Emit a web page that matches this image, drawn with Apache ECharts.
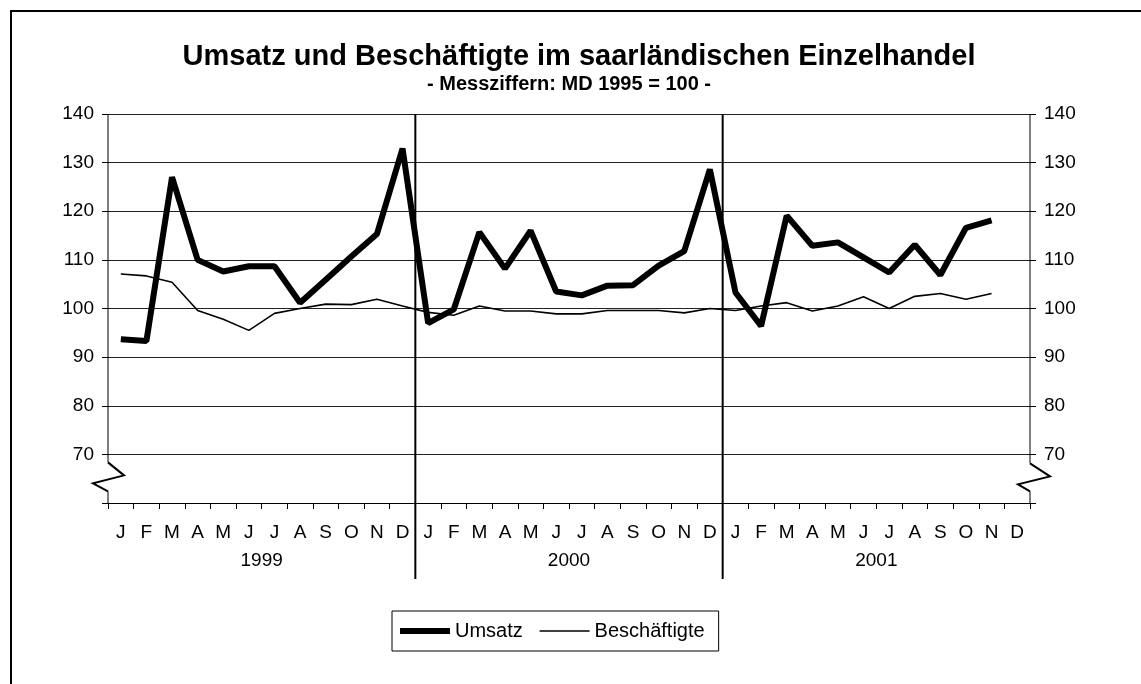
<!DOCTYPE html>
<html>
<head>
<meta charset="utf-8">
<script src="https://cdn.jsdelivr.net/npm/echarts@6/dist/echarts.min.js"></script>
<style>
  html, body { margin: 0; padding: 0; background: #fff; }
  #main { width: 1141px; height: 684px; }
</style>
</head>
<body>
<div id="main"></div>
<script>
// Monate Jan 1999 - Dez 2001
const months = ['J','F','M','A','M','J','J','A','S','O','N','D',
                'J','F','M','A','M','J','J','A','S','O','N','D',
                'J','F','M','A','M','J','J','A','S','O','N','D']
const years = ['1999', '2000', '2001']

// Messziffern MD 1995 = 100
const umsatz = [93.7, 93.3, 127.0, 110.0, 107.6, 108.7, 108.7, 101.2, 105.9, 110.7, 115.3, 132.9,
                97.0, 99.8, 115.7, 108.2, 116.0, 103.5, 102.7, 104.7, 104.8, 108.8, 111.8, 128.6,
                103.3, 96.4, 119.1, 112.9, 113.6, 110.5, 107.4, 113.1, 106.9, 116.6, 118.1, null]
const beschaeftigte = [107.1, 106.7, 105.4, 99.6, 97.8, 95.5, 99.0, 100.0, 100.9, 100.8, 101.9, 100.5,
                       99.2, 98.6, 100.5, 99.5, 99.5, 98.9, 98.9, 99.6, 99.6, 99.6, 99.1, 100.0,
                       99.6, 100.5, 101.2, 99.5, 100.5, 102.4, 100.0, 102.5, 103.1, 101.9, 103.1, null]

const yMin = 60, yMax = 140, yStep = 10
const font = '"Liberation Sans", Arial, sans-serif'

const chart = echarts.init(document.getElementById('main'))

const yAxisBase = {
  type: 'value',
  min: yMin,
  max: yMax,
  interval: yStep,
  axisLine: { show: false },
  axisTick: { show: true, length: 6, lineStyle: { color: '#000', width: 1 } },
  axisLabel: {
    color: '#000', fontSize: 19, fontFamily: font, margin: 14,
    formatter: v => (v === yMin ? '' : v)
  }
}

chart.setOption({
  animation: false,
  backgroundColor: '#fff',
  title: [
    {
      text: 'Umsatz und Beschäftigte im saarländischen Einzelhandel',
      left: 574, top: 37, textAlign: 'center',
      textStyle: { fontSize: 29, fontWeight: 'bold', color: '#000', fontFamily: font }
    },
    {
      text: '- Messziffern: MD 1995 = 100 -',
      left: 564, top: 69, textAlign: 'center',
      textStyle: { fontSize: 20, fontWeight: 'bold', color: '#000', fontFamily: font }
    }
  ],
  legend: {
    left: 392, top: 611,
    borderColor: '#000', borderWidth: 1,
    padding: [10, 14, 10, 5],
    itemWidth: 50, itemHeight: 14, itemGap: 16,
    itemStyle: { opacity: 0 },
    textStyle: { fontSize: 20, color: '#000', fontFamily: font },
    data: [
      { name: 'Umsatz', lineStyle: { width: 6 } },
      { name: 'Beschäftigte', lineStyle: { width: 1.6 } }
    ]
  },
  grid: { left: 108, right: 111, top: 114, bottom: 181 },
  xAxis: [
    {
      type: 'category',
      data: months,
      boundaryGap: true,
      axisLine: { show: true, lineStyle: { color: '#000', width: 1 } },
      axisTick: { show: true, interval: 0, length: 6, lineStyle: { color: '#000' } },
      axisLabel: { interval: 0, color: '#000', fontSize: 19, fontFamily: font, margin: 20 },
      splitLine: { show: false }
    },
    {
      type: 'category',
      data: years,
      position: 'bottom',
      offset: 40,
      axisLine: { show: false },
      axisTick: { show: false },
      axisLabel: { color: '#000', fontSize: 19, fontFamily: font, margin: 8 },
      splitLine: { show: false }
    }
  ],
  yAxis: [
    Object.assign({}, yAxisBase, {
      position: 'left',
      splitLine: { show: true, lineStyle: { color: '#222', width: 1 } }
    }),
    Object.assign({}, yAxisBase, {
      position: 'right',
      splitLine: { show: false }
    })
  ],
  series: [
    {
      name: 'Umsatz',
      type: 'line',
      data: umsatz,
      symbol: 'none',
      lineStyle: { color: '#000', width: 6 },
      itemStyle: { color: '#000' },
      z: 3
    },
    {
      name: 'Beschäftigte',
      type: 'line',
      data: beschaeftigte,
      symbol: 'none',
      lineStyle: { color: '#000', width: 1.6 },
      itemStyle: { color: '#000' },
      z: 2
    }
  ]
})

// Achsenbruch, Jahrestrenner, Rahmen
const px0 = chart.convertToPixel({ xAxisIndex: 0 }, 0)
const px1 = chart.convertToPixel({ xAxisIndex: 0 }, 1)
const band = px1 - px0
const L = px0 - band / 2
const R = L + band * months.length
const yTop = chart.convertToPixel({ yAxisIndex: 0 }, yMax)
const y70 = chart.convertToPixel({ yAxisIndex: 0 }, yMin + yStep)
const yBot = chart.convertToPixel({ yAxisIndex: 0 }, yMin)

const g = []
const line = (pts, w) => ({
  type: 'polyline', shape: { points: pts },
  style: { stroke: '#000', lineWidth: w, fill: null }, z: 10
})
// linke Achse
g.push(line([[L, yTop], [L, y70 + 8]], 1))
g.push(line([[L, y70 + 8], [L + 16, y70 + 21], [L - 15, y70 + 29], [L, y70 + 37]], 2))
g.push(line([[L, y70 + 37], [L, yBot]], 1))
// rechte Achse
g.push(line([[R, yTop], [R, y70 + 9]], 1))
g.push(line([[R, y70 + 9], [R + 20, y70 + 22], [R - 12, y70 + 30], [R, y70 + 37]], 2))
g.push(line([[R, y70 + 37], [R, yBot]], 1))
// Jahrestrenner
for (let k = 1; k < years.length; k++) {
  const x = L + band * 12 * k
  g.push(line([[x, yTop], [x, yBot + 76]], 2))
}
// Rahmen
g.push({
  type: 'rect', shape: { x: 11, y: 11, width: 1400, height: 1000 },
  style: { stroke: '#000', lineWidth: 2, fill: null }, z: 10
})

chart.setOption({ graphic: g })
</script>
</body>
</html>
